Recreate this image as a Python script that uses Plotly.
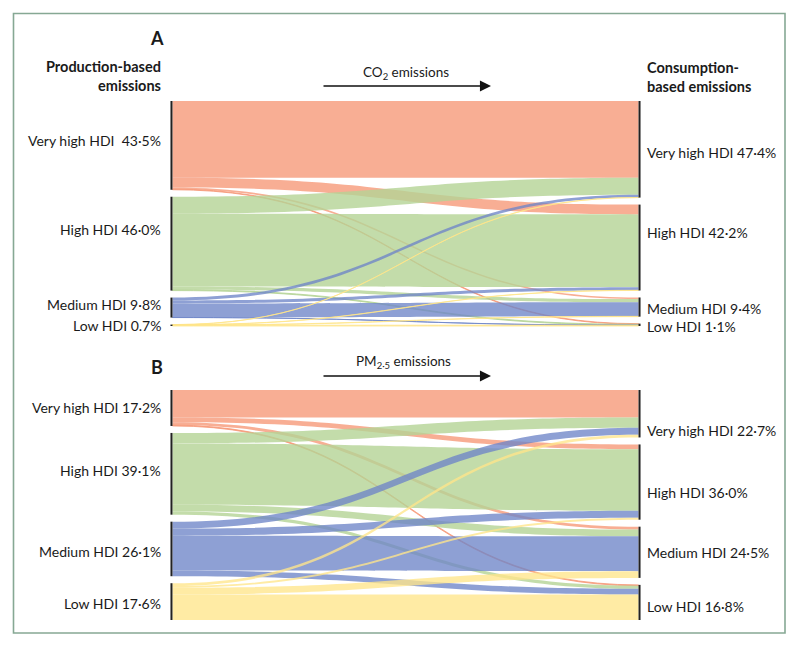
import plotly.graph_objects as go

W, H = 800, 648
OFF = 8  # page body margin offset

# ---------------- data ----------------
groups = ["Very high HDI", "High HDI", "Medium HDI", "Low HDI"]

# Panel A: CO2 — flows from production group (rows) to consumption group (cols), % of total
co2_flows = [
    [37.6, 4.8, 0.8, 0.3],
    [8.3, 35.7, 1.6, 0.4],
    [1.4, 1.5, 6.85, 0.05],
    [0.05, 0.1, 0.15, 0.4],
]
co2_left_labels = ["Very high HDI  43·5%", "High HDI 46·0%", "Medium HDI 9·8%", "Low HDI 0.7%"]
co2_right_labels = ["Very high HDI 47·4%", "High HDI 42·2%", "Medium HDI 9·4%", "Low HDI 1·1%"]

# Panel B: PM2.5
pm_flows = [
    [13.1, 2.3, 1.4, 0.4],
    [5.0, 29.4, 3.2, 1.5],
    [3.3, 3.4, 16.7, 2.7],
    [1.3, 0.9, 3.2, 12.2],
]
pm_left_labels = ["Very high HDI 17·2%", "High HDI 39·1%", "Medium HDI 26·1%", "Low HDI 17·6%"]
pm_right_labels = ["Very high HDI 22·7%", "High HDI 36·0%", "Medium HDI 24·5%", "Low HDI 16·8%"]

# ---------------- style ----------------
link_colors = [
    "rgba(246,151,118,0.78)",
    "rgba(180,211,149,0.80)",
    "rgba(110,133,200,0.78)",
    "rgba(255,229,138,0.78)",
]
FONT = "Lato"
PAD = 7

def px_x(x):
    return (x - OFF) / W

def px_y(y):
    return 1 - (y - OFF) / H

def sankey_trace(flows, top_px, bot_px):
    n = len(flows)
    Hd = bot_px - top_px
    src, tgt, val, col = [], [], [], []
    for i in range(n):
        for j in range(n):
            src.append(i)
            tgt.append(n + j)
            val.append(flows[i][j])
            col.append(link_colors[i])
    left_tot = [sum(flows[i]) for i in range(n)]
    right_tot = [sum(flows[i][j] for i in range(n)) for j in range(n)]
    total = sum(left_tot)
    ky = (Hd - (n - 1) * PAD) / total
    xs, ys = [], []
    for tots, xpos in ((left_tot, 0.001), (right_tot, 0.999)):
        cum = 0
        for k, v in enumerate(tots):
            c = cum * ky + k * PAD + v * ky / 2
            xs.append(xpos)
            ys.append(max(c / Hd, 0.0001))
            cum += v
    return go.Sankey(
        arrangement="fixed",
        domain=dict(x=[px_x(171), px_x(640)], y=[px_y(bot_px), px_y(top_px)]),
        node=dict(
            label=[""] * (2 * n),
            x=xs,
            y=ys,
            pad=PAD,
            thickness=2,
            color="#222222",
            line=dict(width=0),
            hoverinfo="none",
        ),
        link=dict(source=src, target=tgt, value=val, color=col, hoverinfo="none"),
        textfont=dict(size=1, color="rgba(0,0,0,0)"),
    )

fig = go.Figure()
fig.add_trace(sankey_trace(co2_flows, 101, 326))
fig.add_trace(sankey_trace(pm_flows, 390, 620))

ann = []
txt = dict(family=FONT, size=14, color="#1a1a1a")
bold = dict(family=FONT, size=14.5, color="#1a1a1a", weight="bold")

def add_text(x, y, text, xanchor, font, yanchor="middle", align=None):
    ann.append(dict(x=px_x(x), y=px_y(y), xref="paper", yref="paper", text=text,
                    showarrow=False, xanchor=xanchor, yanchor=yanchor, font=font,
                    align=align or xanchor))

# panel letters
add_text(157, 38, "A", "center", dict(family=FONT, size=18, color="#1a1a1a", weight="bold"))
add_text(157, 367, "B", "center", dict(family=FONT, size=18, color="#1a1a1a", weight="bold"))

# headers
add_text(163, 76, "Production-based<br>emissions", "right", bold)
add_text(645, 77, "Consumption-<br>based emissions", "left", bold)

# node labels
left_y_A = [140, 230, 304, 325]
right_y_A = [152, 232, 308, 326]
left_y_B = [407, 471, 551, 603]
right_y_B = [430, 492, 552, 606]
for lab, y in zip(co2_left_labels, left_y_A):
    add_text(163, y, lab, "right", txt)
for lab, y in zip(co2_right_labels, right_y_A):
    add_text(645, y, lab, "left", txt)
for lab, y in zip(pm_left_labels, left_y_B):
    add_text(163, y, lab, "right", txt)
for lab, y in zip(pm_right_labels, right_y_B):
    add_text(645, y, lab, "left", txt)

# arrow captions
add_text(406, 73, "CO<sub>2</sub> emissions", "center", dict(family=FONT, size=13.5, color="#1a1a1a"))
add_text(403, 362, "PM<sub>2·5</sub> emissions", "center", dict(family=FONT, size=13.5, color="#1a1a1a"))

# arrows
for yy in (86, 376):
    ann.append(dict(x=px_x(491), y=px_y(yy), xref="paper", yref="paper",
                    ax=-(491 - 322), ay=0, axref="pixel", ayref="pixel",
                    text="", showarrow=True, arrowhead=2, arrowsize=1.7,
                    arrowwidth=1.3, arrowcolor="#111111"))

fig.update_layout(
    width=W, height=H,
    margin=dict(l=0, r=0, t=0, b=0),
    paper_bgcolor="white",
    plot_bgcolor="white",
    annotations=ann,
    shapes=[dict(type="rect", xref="paper", yref="paper",
                 x0=px_x(13.5), x1=px_x(785), y0=px_y(633), y1=px_y(13.5),
                 line=dict(color="#86a894", width=1.6), fillcolor="rgba(0,0,0,0)")],
    font=dict(family=FONT),
)

fig.write_html("out.html")
